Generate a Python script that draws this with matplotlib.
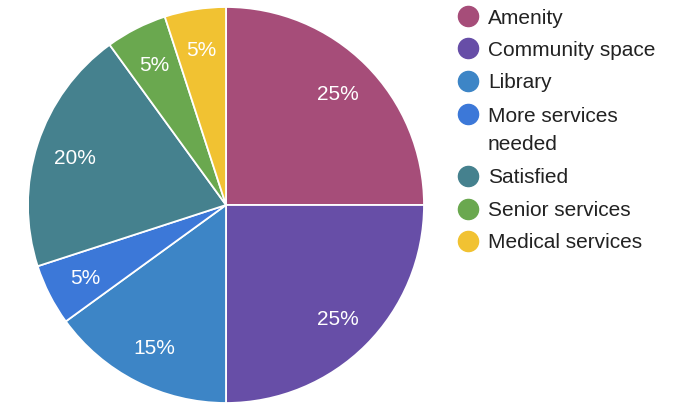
import matplotlib.pyplot as plt
from matplotlib.lines import Line2D

plt.rcParams['font.family'] = ['Liberation Sans', 'DejaVu Sans']

# Survey responses (share of answers)
categories = ['Amenity', 'Community space', 'Library', 'More services\nneeded',
              'Satisfied', 'Senior services', 'Medical services']
shares = [25, 25, 15, 5, 20, 5, 5]
colors = ['#a64d79', '#674ea7', '#3d85c6', '#3c78d8',
          '#45818e', '#6aa84f', '#f1c232']

fig = plt.figure(figsize=(6.8, 4.04), dpi=100)
ax = fig.add_axes([28 / 680, 1 / 404, 396 / 680, 396 / 404])

wedges, texts, autotexts = ax.pie(
    shares, colors=colors, startangle=90, counterclock=False,
    autopct='%d%%', pctdistance=0.8,
    wedgeprops=dict(edgecolor='white', linewidth=1.3))
for t in autotexts:
    t.set_color('white')
    t.set_fontsize(15)
    t.set_va('center_baseline')
ax.set_xlim(-1, 1)
ax.set_ylim(-1, 1)
ax.set_aspect('equal')

# Legend drawn by hand so wrapped labels line up like the chart tool does
row_y = [16, 48, 81, 114, 176, 209, 241]
for name, col, y in zip(categories, colors, row_y):
    fy = 1 - y / 404
    fig.add_artist(Line2D([468 / 680], [fy], marker='o', markersize=14.5,
                          color=col, transform=fig.transFigure))
    for i, line in enumerate(name.split('\n')):
        fig.text(488 / 680, 1 - (y + 28 * i) / 404, line, fontsize=15,
                 color='#222222', va='center_baseline', ha='left')

fig.savefig('out.png', dpi=100)
